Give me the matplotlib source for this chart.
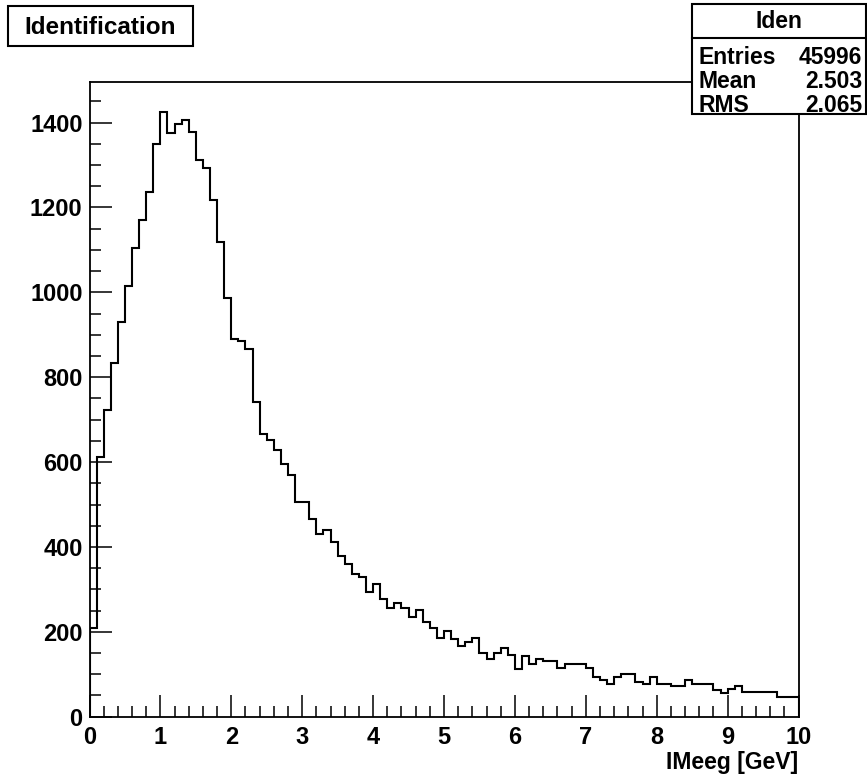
import numpy as np
import matplotlib
matplotlib.use('Agg')
import matplotlib.pyplot as plt
from matplotlib.patches import Rectangle
from matplotlib.ticker import MultipleLocator

# IMeeg histogram, 100 bins of 0.1 GeV
edges = np.linspace(0, 10, 101)
counts = [
    209, 612, 722, 834, 930, 1014, 1104, 1171, 1236, 1350,
    1425, 1376, 1397, 1405, 1378, 1311, 1293, 1218, 1118, 986,
    891, 885, 867, 742, 665, 651, 628, 595, 570, 505,
    505, 467, 430, 439, 412, 379, 359, 336, 330, 294,
    312, 278, 255, 269, 255, 235, 251, 222, 208, 186,
    202, 184, 166, 175, 186, 151, 137, 150, 161, 145,
    113, 143, 125, 137, 131, 131, 114, 124, 124, 123,
    114, 94, 86, 76, 94, 100, 100, 82, 77, 94,
    77, 77, 72, 72, 86, 77, 77, 77, 62, 57,
    66, 72, 58, 58, 58, 58, 58, 47, 47, 47,
]
stat_names = ["Entries", "Mean", "RMS"]
stat_values = ["45996", "2.503", "2.065"]

plt.rcParams['font.family'] = ['Liberation Sans', 'DejaVu Sans']
plt.rcParams['font.weight'] = 'bold'

W, H = 867, 783
fig = plt.figure(figsize=(W / 100, H / 100), dpi=100)

def fx(x):
    return x / W

def fy(y):
    return 1 - y / H

ax = fig.add_axes([fx(89.5), fy(716.7), fx(798.5) - fx(89.5), fy(81.7) - fy(716.7)])
ax.stairs(counts, edges, color="black", linewidth=1.5, baseline=0)
ax.set_xlim(0, 10)
ax.set_ylim(0, 1.05 * max(counts))

ax.xaxis.set_major_locator(MultipleLocator(1))
ax.xaxis.set_minor_locator(MultipleLocator(0.2))
ax.yaxis.set_major_locator(MultipleLocator(200))
ax.yaxis.set_minor_locator(MultipleLocator(50))
ax.tick_params(which="both", direction="in", top=False, right=False, width=1.1, labelsize=17)
ax.tick_params(which="major", length=15.5)
ax.tick_params(which="minor", length=8)
ax.tick_params(axis="y", pad=5)
ax.tick_params(axis="x", pad=7)
for s in ax.spines.values():
    s.set_linewidth(1.3)

fig.text(fx(798), fy(763), "IMeeg [GeV]", ha="right", va="center", fontsize=16.5, fontweight="bold")

# title box
fig.patches.append(Rectangle((fx(8), fy(46)), fx(193) - fx(8), fy(6) - fy(46),
                             transform=fig.transFigure, fill=False, edgecolor="black", linewidth=1.5))
fig.text(fx(100), fy(27), "Identification", ha="center", va="center", fontsize=17.5, fontweight="bold")

# stats box
box_top, box_sep, box_bot = 4, 38, 114
fig.patches.append(Rectangle((fx(692), fy(box_bot)), fx(866) - fx(692), fy(box_top) - fy(box_bot),
                             transform=fig.transFigure, facecolor="white", edgecolor="black",
                             linewidth=1.5, zorder=5))
fig.add_artist(plt.Line2D([fx(692), fx(866)], [fy(box_sep), fy(box_sep)], color="black", linewidth=1.5, zorder=6))
fig.text(fx(779), fy(21), "Iden", ha="center", va="center", fontsize=16.5, fontweight="bold", zorder=7)
for i, (n, v) in enumerate(zip(stat_names, stat_values)):
    yy = 57 + i * 24.5
    fig.text(fx(699), fy(yy), n, ha="left", va="center", fontsize=16.5, fontweight="bold", zorder=7)
    fig.text(fx(862), fy(yy), v, ha="right", va="center", fontsize=16.5, fontweight="bold", zorder=7)

fig.savefig("out.png", dpi=100)
